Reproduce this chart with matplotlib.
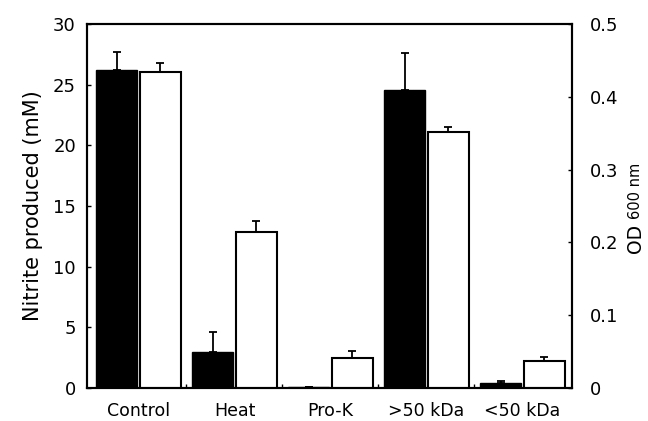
import matplotlib
matplotlib.use("Agg")
import matplotlib.pyplot as plt
import numpy as np

categories = ["Control", "Heat", "Pro-K", ">50 kDa", "<50 kDa"]
nitrite = [26.2, 3.0, 0.06, 24.6, 0.44]
nitrite_err = [1.5, 1.6, 0.0, 3.0, 0.12]
od600 = [0.434, 0.214, 0.041, 0.352, 0.0375]
od600_err = [0.013, 0.016, 0.010, 0.007, 0.005]

plt.rcParams['font.family'] = ['DejaVu Sans']

W, H = 648, 421
fig = plt.figure(figsize=(W/100, H/100), dpi=100)
ax = fig.add_axes([87/W, 33/H, (571.5-87)/W, (388-24)/H])
ax2 = ax.twinx()

x = np.arange(len(categories))
w = 0.427
off = 0.226

ax.bar(x - off, nitrite, width=w, color='black', edgecolor='black', linewidth=1.0, zorder=2)
ax.errorbar(x - off, nitrite, yerr=[np.zeros(len(x)), nitrite_err], fmt='none',
            ecolor='black', elinewidth=1.3, capsize=3, capthick=1.3, zorder=3)

ax2.bar(x + off, od600, width=w, color='white', edgecolor='black', linewidth=1.5, zorder=2)
ax2.errorbar(x + off, od600, yerr=[np.zeros(len(x)), od600_err], fmt='none',
             ecolor='black', elinewidth=1.3, capsize=3, capthick=1.3, zorder=3)

ax.set_xlim(-0.536, 4.51)
ax.set_ylim(0, 30)
ax2.set_ylim(0, 0.5)
ax.set_yticks([0, 5, 10, 15, 20, 25, 30])
ax2.set_yticks([0, 0.1, 0.2, 0.3, 0.4, 0.5])
ax2.set_yticklabels(["0", "0.1", "0.2", "0.3", "0.4", "0.5"])
ax.set_xticks(x)
ax.set_xticklabels(categories)
ax.set_xticks(x[:-1] + 0.49, minor=True)

ax.tick_params(axis='y', direction='in', length=3, width=1, labelsize=13, pad=8)
ax2.tick_params(axis='y', direction='in', length=3, width=1, labelsize=13, pad=13)
ax.tick_params(axis='x', which='major', length=0, labelsize=12.5, pad=10)
ax.tick_params(axis='x', which='minor', direction='in', length=3, width=1)

for a in (ax, ax2):
    for s in a.spines.values():
        s.set_linewidth(1.5)

ax.set_ylabel("Nitrite produced (mM)", fontsize=15, labelpad=7)

# right-hand label: "OD" with smaller "600 nm"
fig.text(635/W, 1 - 253/H, "OD", rotation=90, fontsize=13.5, ha='center', va='bottom')
fig.text(643/W, 1 - 219/H, "600 nm", rotation=90, fontsize=10.5, ha='right', va='bottom')

fig.savefig("out.png", dpi=100)
